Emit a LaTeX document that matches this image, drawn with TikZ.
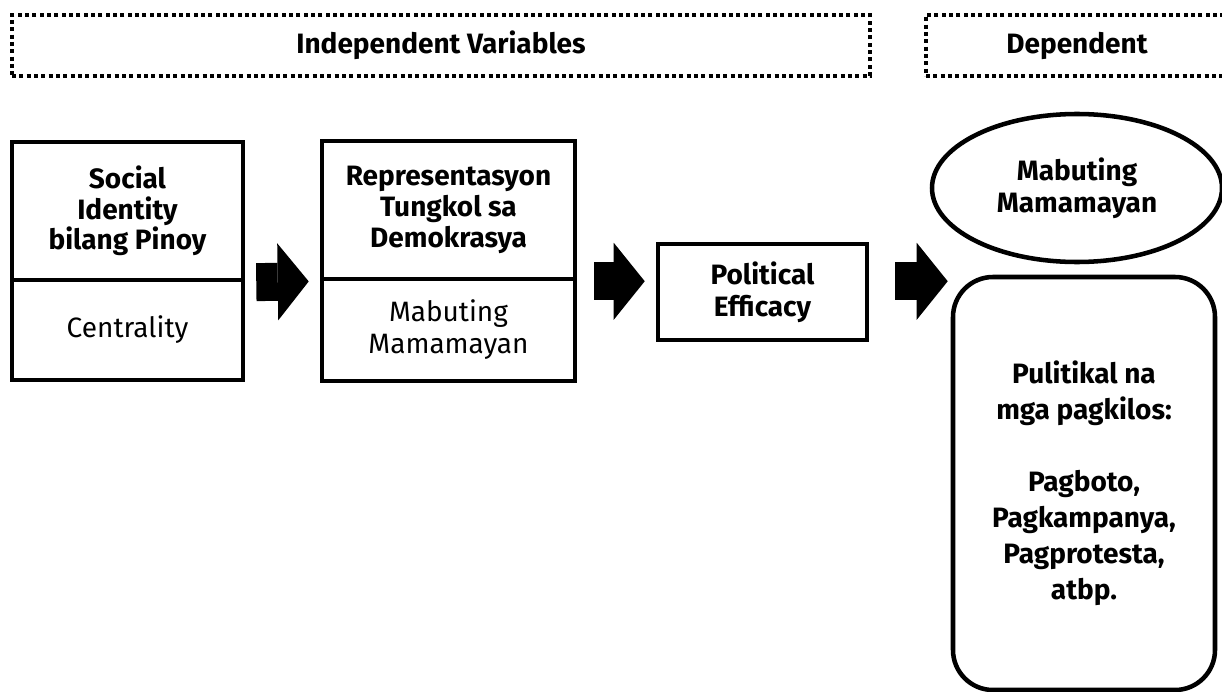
\documentclass[tikz,border=0pt]{standalone}
\usepackage{fontspec}
\setmainfont{Fira Sans}
\usetikzlibrary{arrows.meta,shapes.geometric}

\tikzset{
  txt/.style={font=\fontsize{21pt}{24pt}\selectfont, align=center, inner sep=0pt},
  box/.style={txt, draw, line width=3.4pt, minimum width=173.25pt},
  dashbox/.style={txt, font=\fontsize{21pt}{24pt}\selectfont\bfseries, draw, line width=3pt,
    dash pattern=on 3pt off 2.5pt, minimum height=45.75pt},
  blockarrow/.style={line width=28.5pt, -{Triangle[length=23.25pt, width=57.75pt, line width=0pt]}},
}

\begin{document}
\begin{tikzpicture}[x=0.75pt, y=-0.75pt]
  \useasboundingbox (0,0) rectangle (1222,692);

  % headings
  \node[dashbox, minimum width=643.5pt] (iv) at (441,45.5) {Independent Variables};
  \node[dashbox, minimum width=226.5pt] (dv) at (1077,45.5) {Dependent};

  % independent variables
  \node[box, minimum height=103.5pt, font=\fontsize{21pt}{23pt}\selectfont\bfseries] (sid) at (127.5,211)
    {Social\\Identity\\bilang Pinoy};
  \node[box, minimum height=75pt] (cen) at (127.5,330) {Centrality};

  \node[box, minimum width=189.75pt, minimum height=103.5pt, font=\fontsize{21pt}{23pt}\selectfont\bfseries] (rep) at (448.5,210)
    {Representasyon\\Tungkol sa\\Demokrasya};
  \node[box, minimum width=189.75pt, minimum height=76.5pt] (mab) at (448.5,330)
    {Mabuting\\Mamamayan};

  \node[box, minimum width=156.75pt, minimum height=72pt, font=\fontsize{21pt}{24pt}\selectfont\bfseries] (eff) at (762.5,292)
    {Political\\Efficacy};

  % dependent variable
  \node[txt, draw, line width=3.4pt, ellipse, minimum width=217.5pt, minimum height=111pt,
    font=\fontsize{21pt}{24pt}\selectfont\bfseries] (mm) at (1077,188) {Mabuting\\Mamamayan};
  \node[txt, draw, line width=3.4pt, rounded corners=30pt, minimum width=196.5pt, minimum height=309.75pt,
    font=\fontsize{21pt}{27pt}\selectfont\bfseries] (pul) at (1084,483.5)
    {Pulitikal na\\mga pagkilos:\\[27pt]Pagboto,\\Pagkampanya,\\Pagprotesta,\\atbp.};

  % block arrows
  \draw[blockarrow, shorten <=8.25pt, shorten >=8.25pt] (sid.south east) -- (rep.south west);
  \draw[blockarrow, shorten <=12.75pt, shorten >=8.25pt] (rep.south east) -- (rep.south east -| eff.west);
  \draw[blockarrow, shorten <=19.5pt, shorten >=2.25pt] (eff.east |- rep.south) -- (pul.west |- rep.south);

\end{tikzpicture}
\end{document}
